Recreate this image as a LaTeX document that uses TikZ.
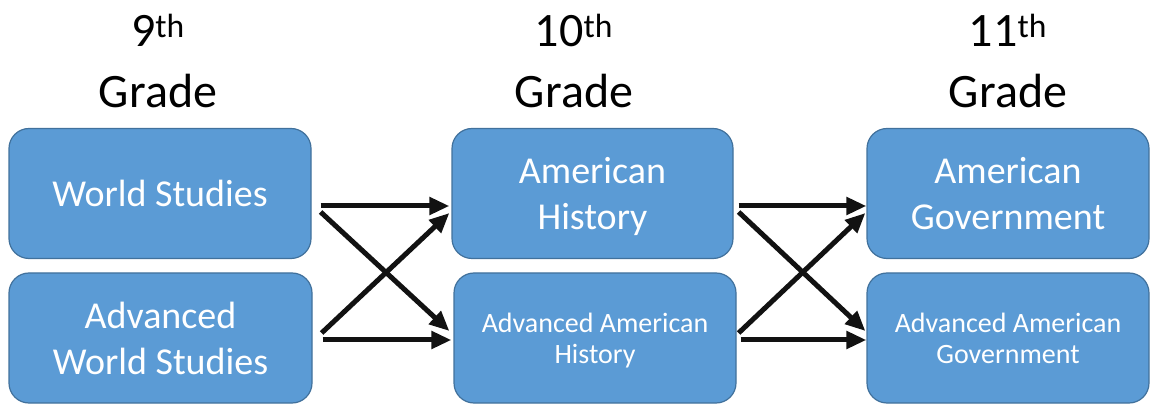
\documentclass[tikz,border=0pt]{standalone}
\usepackage{fontspec}
\setmainfont{Carlito}
\usetikzlibrary{arrows.meta}

\definecolor{boxblue}{HTML}{5B9BD5}
\definecolor{boxline}{HTML}{41719C}

\tikzset{
  course/.style={draw=boxline, line width=1.2pt, fill=boxblue, rounded corners=20pt,
    text=white, align=center, inner sep=0pt, minimum height=130pt},
  bigtext/.style={font=\fontsize{38}{46}\selectfont},
  smalltext/.style={font=\fontsize{28}{31}\selectfont},
  grade/.style={align=center, font=\fontsize{48}{61}\selectfont},
  flow/.style={line width=5pt, draw=black!93, -{Triangle[length=20pt,width=17pt]}}
}

\begin{document}
\begin{tikzpicture}[x=1pt, y=1pt]
            \useasboundingbox (0,0) rectangle (1150,404);

            % grade headings
            \node[grade] (g9) at (158,343) {9\textsuperscript{th}\\Grade};
            \node[grade] (g10) at (574,343) {10\textsuperscript{th}\\Grade};
            \node[grade] (g11) at (1008,343) {11\textsuperscript{th}\\Grade};

            % courses
            \node[course, bigtext, minimum width=302pt] (ws) at (160,210.5) {World Studies};
            \node[course, bigtext, minimum width=303pt] (aws) at (160.5,66) {Advanced\\World Studies};
            \node[course, bigtext, text depth=0pt, minimum width=281pt] (ah) at (592.5,210.5) {American\\History};
            \node[course, smalltext, text depth=0pt, minimum width=282pt] (aah) at (595,66) {Advanced American\\History};
            \node[course, bigtext, minimum width=282pt] (ag) at (1008,210.5) {American\\Government};
            \node[course, smalltext, minimum width=282pt] (aag) at (1008,66) {Advanced American\\Government};

            % 9th -> 10th
            \draw[flow] ([xshift=9pt,yshift=-12.5pt]ws.east) -- ([xshift=-2pt,yshift=-12.5pt]ah.west);
            \draw[flow] ([xshift=9pt,yshift=-18.5pt]ws.east) -- ([xshift=-4pt,yshift=7pt]aah.west);
            \draw[flow] ([xshift=9pt,yshift=5pt]aws.east) -- ([xshift=-2pt,yshift=-19.5pt]ah.west);
            \draw[flow] ([xshift=10pt,yshift=-2pt]aws.east) -- ([xshift=-2pt,yshift=-2pt]aah.west);

            % 10th -> 11th
            \draw[flow] ([xshift=5pt,yshift=-12.5pt]ah.east) -- ([yshift=-12.5pt]ag.west);
            \draw[flow] ([xshift=5pt,yshift=-18.5pt]ah.east) -- ([xshift=-1pt,yshift=7pt]aag.west);
            \draw[flow] ([xshift=2pt,yshift=5pt]aah.east) -- ([xshift=-1pt,yshift=-19.5pt]ag.west);
            \draw[flow] ([xshift=4pt,yshift=-2pt]aah.east) -- ([yshift=-2pt]aag.west);
        \end{tikzpicture}
\end{document}
